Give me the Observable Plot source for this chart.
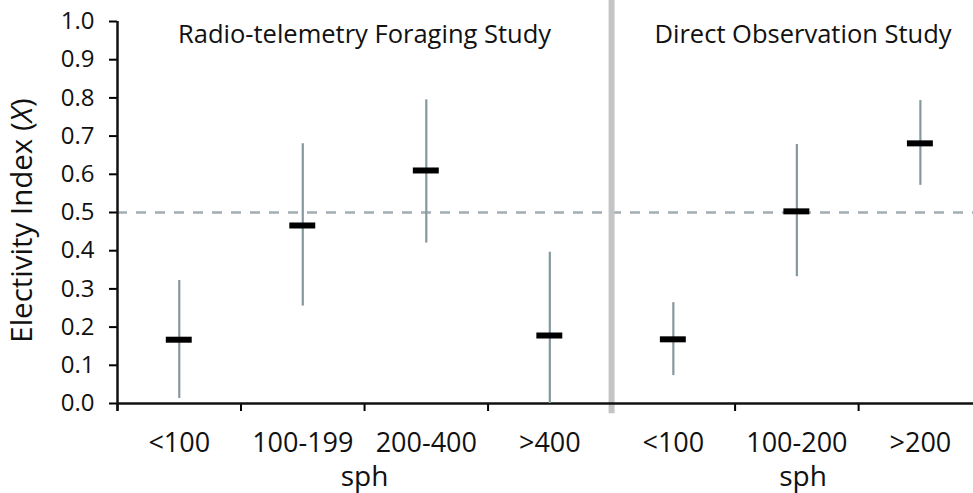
<!DOCTYPE html>
<html><head><meta charset="utf-8">
<script src="https://cdn.jsdelivr.net/npm/d3@7"></script>
<script src="https://cdn.jsdelivr.net/npm/@observablehq/plot@0.6"></script>
<style>
body{margin:0;background:#fff;}
svg{font-family:"Open Sans",sans-serif;}
</style>
</head><body><div id="chart"></div>
<script>
const categories = ["<100","100-199","200-400",">400","<100","100-200",">200"];
const studies = ["Radio-telemetry Foraging Study","Direct Observation Study"];
const studyOfCategory = [0,0,0,0,1,1,1];
const means = [0.167,0.466,0.610,0.178,0.168,0.503,0.681];
const lower = [0.013,0.255,0.420,0.000,0.073,0.332,0.571];
const upper = [0.322,0.680,0.795,0.396,0.264,0.678,0.793];
const yTicks = [0,0.1,0.2,0.3,0.4,0.5,0.6,0.7,0.8,0.9,1.0];
const refValue = 0.5;
const yLabel = "Electivity Index (X)";
const xLabel = "sph";

const data = categories.map((c,i)=>({pos:i+0.5,label:c,study:studyOfCategory[i],mean:means[i],lo:lower[i],hi:upper[i]}));
const nLeft = studyOfCategory.filter(s=>s===0).length;
const panels = studies.map((s,k)=>{
  const a = k===0 ? 0 : nLeft, b = k===0 ? nLeft : categories.length;
  return {name:s, center:(a+b)/2 + k*0.05};
});
const boundaryTicks = d3.range(0, categories.length).filter(t=>t!==nLeft);
const xMax = 6.93;
const fmt = d3.format(".1f");

const plot = Plot.plot({
  width: 973, height: 493,
  marginLeft: 117, marginRight: 0, marginTop: 21, marginBottom: 90,
  x: {domain:[0,xMax]},
  y: {domain:[0,1]},
  marks: [
    Plot.ruleY([refValue], {x1:0, x2:xMax, stroke:"#a3adb2", strokeWidth:2.5, strokeDasharray:"10,9"}),
    Plot.ruleX([nLeft], {y1:-0.027, y2:1.06, stroke:"#c4c4c4", strokeWidth:6}),
    Plot.axisY({ticks:yTicks, tickFormat:()=>"", tickSize:8, strokeWidth:2, label:null}),
    Plot.text(yTicks, {y:d=>d, text:d=>fmt(d), frameAnchor:"left", textAnchor:"end", dx:-23, fontSize:24, fill:"#111"}),
    Plot.axisX({ticks:boundaryTicks, tickFormat:()=>"", tickSize:8, strokeWidth:2, label:null}),
    Plot.ruleX([0], {y1:-0.02, y2:1, stroke:"#111", strokeWidth:2.5}),
    Plot.ruleY([0], {x1:0, x2:xMax, stroke:"#111", strokeWidth:2.5}),
    Plot.ruleX(data, {x:"pos", y1:"lo", y2:"hi", stroke:"#86989f", strokeWidth:2.2}),
    Plot.ruleY(data, {x1:d=>d.pos-0.105, x2:d=>d.pos+0.105, y:"mean", stroke:"#000", strokeWidth:6}),
    Plot.text(data, {x:"pos", y:0, text:"label", dy:29, lineAnchor:"top", fontSize:27, fill:"#111"}),
    Plot.text(panels, {x:"center", y:0, text:()=>xLabel, dy:74, fontSize:28, fill:"#111"}),
    Plot.text(panels, {x:"center", y:1, text:"name", dy:13, fontSize:25.5, fill:"#111"}),
    Plot.text([yLabel], {frameAnchor:"left", textAnchor:"middle", dx:-95, dy:8, rotate:-90, fontSize:29.5, fill:"#111"})
  ]
});
d3.select(plot).selectAll("text").filter(function(){return this.textContent===yLabel;})
  .each(function(){
    const t = d3.select(this);
    t.text(null);
    t.append("tspan").text("Electivity Index (");
    t.append("tspan").attr("font-style","italic").text("X");
    t.append("tspan").text(")");
  });
document.getElementById("chart").append(plot);
</script>
</body></html>
